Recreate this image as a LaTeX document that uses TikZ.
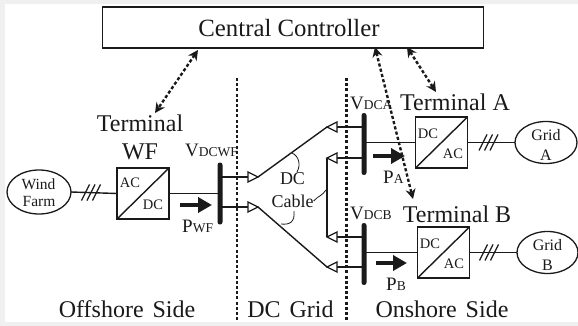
\documentclass[tikz,border=0pt]{standalone}
\usepackage{fontspec}
\setmainfont{Liberation Serif}
\usetikzlibrary{arrows.meta,shapes.geometric}
\definecolor{ink}{HTML}{1A1A1A}
\definecolor{edge}{HTML}{F0F0F0}
\tikzset{
  x=1pt,y=-1pt,
  ln/.style={draw=ink,line width=1.4pt},
  conv/.style={draw=ink,line width=1.4pt,rectangle,minimum width=52pt,minimum height=51pt,inner sep=0pt,outer sep=0pt},
  src/.style={draw=ink,line width=1.3pt,ellipse,inner sep=0pt,outer sep=0pt},
  srctext/.style={inner sep=0pt,text=ink,font=\fontsize{15.5}{17}\selectfont},
  gridtext/.style={inner sep=0pt,text=ink,font=\fontsize{16}{17}\selectfont},
  bus/.style={fill=ink,rectangle,rounded corners=2.4pt,minimum width=5pt,inner sep=0pt,outer sep=0pt},
  lab/.style={inner sep=0pt,text=ink,font=\fontsize{24}{26}\selectfont},
  mid/.style={inner sep=0pt,text=ink,font=\fontsize{18}{20}\selectfont,align=center},
  small/.style={inner sep=0pt,text=ink,font=\fontsize{14.5}{16}\selectfont},
  vlab/.style={inner sep=0pt,text=ink,font=\fontsize{19}{20}\selectfont},
  link/.style={draw=ink,line width=2.4pt,dash pattern=on 3.2pt off 2.2pt,{Stealth[length=10pt,width=10pt]}-{Stealth[length=10pt,width=10pt]}},
  bound/.style={draw=ink,line width=2.2pt,dash pattern=on 3pt off 2.2pt},
  flow/.style={draw=ink,line width=4pt,-{Triangle[length=14pt,width=15pt]}},
  tri/.style={draw=ink,line width=1.3pt,fill=white,line join=miter},
  thin/.style={draw=ink,line width=.8pt},
}
\newcommand{\sbs}[2]{#1{\fontsize{13.5}{14}\selectfont #2}}
\begin{document}
\begin{tikzpicture}
\useasboundingbox (0,0) rectangle (578,326);
\fill[edge] (0,0) rectangle (578,326);
\fill[white] (5,4) rectangle (578,322);

% boxes and sources
\node[draw=ink,line width=1.4pt,rectangle,minimum width=381pt,minimum height=41pt,inner sep=0pt,outer sep=0pt] (cc) at (293,27.5) {};
\node[inner sep=0pt,text=ink,font=\fontsize{24.8}{26}\selectfont] (cct) at (289,28) {Central Controller};
\node[src,minimum width=64pt,minimum height=44pt] (wind) at (39,192) {};
\node[srctext] (windt) at (38.5,184) {Wind};
\node[srctext] (farmt) at (39,202) {Farm};
\node[conv] (cwf) at (143,193.5) {};
\node[conv] (ca) at (441.5,142.5) {};
\node[conv] (cb) at (443.5,252.5) {};
\node[src,minimum width=62pt,minimum height=42pt] (ga) at (546,142.5) {};
\node[gridtext] (gat) at (546,135) {Grid};
\node[gridtext] (gaa) at (546,155) {A};
\node[src,minimum width=61pt,minimum height=42pt] (gb) at (547.5,252.5) {};
\node[gridtext] (gbt) at (547.5,245) {Grid};
\node[gridtext] (gbb) at (547.5,265) {B};
\node[bus,minimum height=62pt] (bwf) at (220,193.5) {};
\node[bus,minimum height=62pt] (ba) at (364,144) {};
\node[bus,minimum height=62pt] (bb) at (364,254) {};

% boundaries
\coordinate (d1t) at (237,78); \coordinate (d1b) at (237,322);
\coordinate (d2t) at (346.5,78); \coordinate (d2b) at (346.5,322);
\draw[bound] (d1t) -- (d1b);
\draw[bound] (d2t) -- (d2b);

% converter diagonals and texts
\foreach \c in {cwf,ca,cb} \draw[ln] (\c.south west) -- (\c.north east);
\node[small] at ([shift={(-13,-10.5)}]cwf.center) {AC};
\node[small] at ([shift={(10,11.5)}]cwf.center) {DC};
\node[small] at ([shift={(-13.5,-8.5)}]ca.center) {DC};
\node[small] at ([shift={(11.5,11.5)}]ca.center) {AC};
\node[small] at ([shift={(-13.5,-8.5)}]cb.center) {DC};
\node[small] at ([shift={(10.5,11.5)}]cb.center) {AC};

% AC lines
\draw[ln] (wind.east) -- (cwf.west);
\draw[ln] (cwf.east) -- (bwf.center);
\draw[ln] (ba.center |- ca.west) -- (ca.west);
\draw[ln] (bb.center |- cb.west) -- (cb.west);
\draw[ln] (ca.east) -- (ga.west);
\draw[ln] (cb.east) -- (gb.west);

% three-phase ticks
\coordinate (tw) at (91,192.5);
\coordinate (ta) at (488.5,142.5);
\coordinate (tb) at (489,252.5);
\foreach \t in {tw,ta,tb} \foreach \s in {-5.5,0,5.5}
  \draw[draw=ink,line width=1.3pt] ([shift={(\s-4,8)}]\t) -- ([shift={(\s+4,-8)}]\t);

% DC terminals
\coordinate (t1) at (258,177);
\coordinate (t2) at (258,207);
\coordinate (t3) at (327,127);
\coordinate (t4) at (327,158);
\coordinate (t5) at (327,237);
\coordinate (t6) at (327,267);
\draw[ln] (t1) -- (t3);
\draw[ln] (t2) -- (t6);
\draw[ln] (t4) -- (t5);
\draw[ln] (t1) ++(-10,0) coordinate (s1) -- (s1 -| bwf.center);
\draw[ln] (t2) ++(-10,0) coordinate (s2) -- (s2 -| bwf.center);
\draw[ln] (t3) ++(10,0) coordinate (s3) -- (s3 -| ba.center);
\draw[ln] (t4) ++(10,0) coordinate (s4) -- (s4 -| ba.center);
\draw[ln] (t5) ++(10,0) coordinate (s5) -- (s5 -| bb.center);
\draw[ln] (t6) ++(10,0) coordinate (s6) -- (s6 -| bb.center);
\foreach \t in {t1,t2} \draw[tri] (\t) -- ++(-10,-5) -- ++(0,10) -- cycle;
\foreach \t in {t3,t4,t5,t6} \draw[tri] (\t) -- ++(10,-5) -- ++(0,10) -- cycle;

% cable label and leaders
\node[mid] (dc) at (292.5,179) {DC};
\node[mid] (cable) at (292.5,201) {Cable};
\coordinate (l1) at (292,153);
\coordinate (l2) at (297,172);
\coordinate (l3) at (326,190);
\coordinate (l4) at (281,224);
\coordinate (l5) at (294,211);
\draw[thin] (l1) .. controls (299,156) and (301,165) .. (l2);
\draw[thin] (cable.east) .. controls (318,196) and (322,196) .. (l3);
\draw[thin] (l5) .. controls (295,222) and (290,225) .. (l4);

% power flows
\coordinate (f1a) at (180,205); \coordinate (f1b) at (212,205);
\coordinate (f2a) at (373,156); \coordinate (f2b) at (405,156);
\coordinate (f3a) at (376,263); \coordinate (f3b) at (407,263);
\draw[flow] (f1a) -- (f1b);
\draw[flow] (f2a) -- (f2b);
\draw[flow] (f3a) -- (f3b);

% labels
\node[lab] (tlwf) at (140,123) {Terminal};
\node[lab] (wf) at (140,152) {WF};
\node[lab] (tla) at (455,102) {Terminal A};
\node[lab] (tlb) at (457,214) {Terminal B};
\node[vlab,anchor=west] (v1) at (185,150) {\sbs{V}{DCWF}};
\node[vlab,anchor=west] (v2) at (350,103) {\sbs{V}{DCA}};
\node[vlab,anchor=west] (v3) at (350,213) {\sbs{V}{DCB}};
\node[vlab,anchor=west] (p1) at (182,226) {\sbs{P}{WF}};
\node[vlab,anchor=west] (p2) at (383,177) {\sbs{P}{A}};
\node[vlab,anchor=west] (p3) at (386,284) {\sbs{P}{B}};
\node[lab,anchor=base] (s1l) at (127,317) {Offshore\hspace{.12em} Side};
\node[lab,anchor=base] (s2l) at (290.5,317) {DC\hspace{.12em} Grid};
\node[lab,anchor=base] (s3l) at (442,317) {Onshore\hspace{.12em} Side};

% controller links
\coordinate (e1) at (198,50);
\coordinate (e2) at (155,113);
\coordinate (e3) at (375,47);
\coordinate (e4) at (413,199);
\coordinate (e5) at (407,47);
\coordinate (e6) at (436,92);
\draw[link] (e1) -- (e2);
\draw[link] (e3) -- (e4);
\draw[link] (e5) -- (e6);
\end{tikzpicture}
\end{document}
